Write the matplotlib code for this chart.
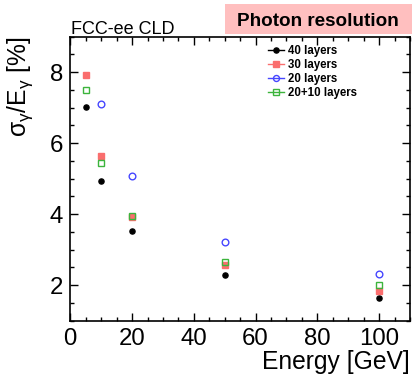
import matplotlib
matplotlib.use("Agg")
import matplotlib.pyplot as plt
from matplotlib.lines import Line2D
from matplotlib.patches import Rectangle
from matplotlib.ticker import MultipleLocator

plt.rcParams['font.family'] = ['Liberation Sans', 'DejaVu Sans']
plt.rcParams['mathtext.fontset'] = 'custom'
plt.rcParams['mathtext.rm'] = 'Liberation Sans'
plt.rcParams['mathtext.it'] = 'Liberation Sans'
plt.rcParams['mathtext.default'] = 'regular'

# Data
energy = [5, 10, 20, 50, 100]
res_40 = [7.03, 4.93, 3.53, 2.28, 1.64]
res_30 = [7.91, 5.63, 3.92, 2.58, 1.85]
energy_20 = [10, 20, 50, 100]
res_20 = [7.10, 5.07, 3.22, 2.32]
res_20p10 = [7.51, 5.44, 3.95, 2.64, 2.00]
labels = ["40 layers", "30 layers", "20 layers", "20+10 layers"]

W, H = 412, 375
fig = plt.figure(figsize=(W / 100, H / 100), dpi=100)
L, R, T, B = 70.3, 410, 36.7, 320.7
ax = fig.add_axes([L / W, 1 - B / H, (R - L) / W, (B - T) / H])

c_black = 'black'
c_red = '#fa6e6e'
c_blue = '#4646ff'
c_green = '#3cb43c'

ax.plot(energy, res_40, 'o', color=c_black, ms=3.7, ls='none')
ax.plot(energy, res_30, 's', color=c_red, ms=4.3, ls='none')
ax.plot(energy_20, res_20, 'o', mfc='none', mec=c_blue, mew=1.0, ms=4.8, ls='none')
ax.plot(energy, res_20p10, 's', mfc='none', mec=c_green, mew=1.0, ms=4.8, ls='none')

ax.set_xlim(0, 110)
ax.set_ylim(1, 9)
ax.xaxis.set_major_locator(MultipleLocator(20))
ax.xaxis.set_minor_locator(MultipleLocator(5))
ax.yaxis.set_major_locator(MultipleLocator(2))
ax.yaxis.set_minor_locator(MultipleLocator(0.5))
ax.tick_params(which='both', direction='in', top=True, right=True, width=1.0)
ax.tick_params(which='major', length=6, labelsize=17.3, pad=5)
ax.tick_params(which='minor', length=3)
for s in ax.spines.values():
    s.set_linewidth(1.2)

ax.set_xlabel('Energy [GeV]', fontsize=17.7, loc='right', labelpad=0)
ax.set_ylabel(r'$\sigma_{\gamma}/E_{\gamma}$ [%]', fontsize=17.7, loc='top')
ax.yaxis.set_label_coords(-0.104, 1.0)

handles = [
    Line2D([], [], color=c_black, marker='o', ms=3.7, lw=1),
    Line2D([], [], color=c_red, marker='s', ms=4.3, lw=1),
    Line2D([], [], color=c_blue, marker='o', mfc='none', ms=4.3, lw=1),
    Line2D([], [], color=c_green, marker='s', mfc='none', ms=4.3, lw=1),
]
leg = fig.legend(handles, labels, loc='upper left',
                 bbox_to_anchor=(268 / W, 1 - 45 / H),
                 frameon=False, prop={'size': 8.3, 'weight': 'bold'},
                 handlelength=1.4, handletextpad=0.3, labelspacing=0.17,
                 borderaxespad=0, borderpad=0)

fig.text(71 / W, 1 - 34 / H, 'FCC-ee CLD', fontsize=13, va='baseline', ha='left')
fig.patches.append(Rectangle((225 / W, 1 - 34 / H), (W - 225) / W, 30 / H,
                             transform=fig.transFigure, facecolor='#ffbfbf',
                             edgecolor='none', zorder=0))
fig.text(318 / W, 1 - 26 / H, 'Photon resolution', fontsize=13.6, fontweight='bold',
         va='baseline', ha='center')

fig.savefig('out.png', dpi=100)
